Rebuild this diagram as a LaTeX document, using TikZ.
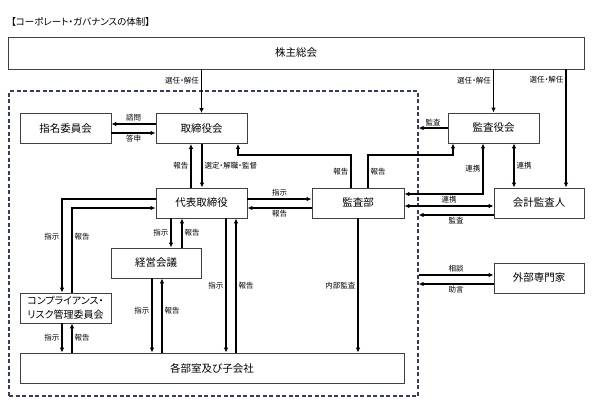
\documentclass[tikz,border=0pt]{standalone}
\usepackage{fontspec}
\setmainfont{Noto Sans CJK JP}[RawFeature=+palt]
\usetikzlibrary{arrows.meta}
\definecolor{frameblue}{RGB}{52,62,92}
\tikzset{
  box/.style={draw=black!75, line width=0.8pt, fill=white, inner sep=0pt,
    minimum height=30pt, font=\fontsize{10.5}{12}\selectfont},
  lbl/.style={font=\fontsize{7.5}{9}\selectfont, inner sep=2pt},
  arr/.style={line width=1.1pt, -{Latex[length=5pt,width=4.5pt]}},
  dbl/.style={line width=1.1pt, {Latex[length=5pt,width=4.5pt]}-{Latex[length=5pt,width=4.5pt]}}
}
\begin{document}
\begin{tikzpicture}[x=1pt, y=-1pt]
    \useasboundingbox (0,0) rectangle (592,408);

    % 見出し
    \node[anchor=west, inner sep=0pt, font=\fontsize{9.5}{11}\selectfont] (title) at (11,22) {【コーポレート・ガバナンスの体制】};

    % 社内の枠
    \node[draw=frameblue, line width=1.2pt, dash pattern=on 4pt off 2.5pt,
          minimum width=409pt, minimum height=305pt, inner sep=0pt] (naibu) at (213.5,243.5) {};

    % 箱
    \node[box, minimum width=576pt, minimum height=32pt] (kabu) at (296,53) {株主総会};
    \node[box, minimum width=91pt] (tori) at (201.5,128.5) {取締役会};
    \node[box, minimum width=91pt] (shimei) at (65.5,128.5) {指名委員会};
    \node[box, minimum width=91pt] (daihyo) at (201.5,203) {代表取締役};
    \node[box, minimum width=90pt] (keiei) at (156,263) {経営会議};
    \node[box, minimum width=91pt, align=center, font=\fontsize{10}{14}\selectfont] (comp) at (65.5,308) {コンプライアンス・\\リスク管理委員会};
    \node[box, minimum width=384pt] (kakubu) at (212,368) {各部室及び子会社};
    \node[box, minimum width=92pt] (kansabu) at (358,203) {監査部};
    \node[box, minimum width=91pt] (kansayaku) at (493.5,128) {監査役会};
    \node[box, minimum width=90pt] (kaikei) at (539,203) {会計監査人};
    \node[box, minimum width=90pt] (gaibu) at (539,278) {外部専門家};

    % 株主総会から
    \draw[arr] (kabu.south -| tori.north) -- node[lbl, left, pos=0.25] {選任・解任} (tori.north);
    \draw[arr] (kabu.south -| kansayaku.north) -- node[lbl, left, pos=0.25] {選任・解任} (kansayaku.north);
    \draw[arr] (kabu.south -| 566,0) -- node[lbl, left, pos=0.09] {選任・解任} (kaikei.north -| 566,0);

    % 取締役会まわり
    \draw[arr] (tori.west |- 0,124) -- node[lbl, above] {諮問} (shimei.east |- 0,124);
    \draw[arr] (shimei.east |- 0,133) -- node[lbl, below] {答申} (tori.west |- 0,133);
    \draw[arr] (daihyo.north -| 191,0) -- node[lbl, left] {報告} (tori.south -| 191,0);
    \draw[arr] (tori.south -| 202,0) -- node[lbl, right] {選定・解職・監督} (daihyo.north -| 202,0);

    % 監査部から
    \draw[arr] (kansabu.north -| 351,0) -- node[lbl, left] {報告} (351,155) -| (tori.south -| 238,0);
    \draw[arr] (kansabu.north -| 368,0) -- node[lbl, right] {報告} (368,155) -| (kansayaku.south -| 453,0);
    \draw[arr] (kansabu.south) -- node[lbl, left] {内部監査} (kakubu.north -| kansabu.south);

    % 監査役会・会計監査人
    \draw[arr] (kansayaku.west) -- node[lbl, above] {監査} (naibu.east |- kansayaku.west);
    \draw[dbl] (kansayaku.south -| 483,0) |- node[lbl, left, pos=0.25] {連携} (kansabu.east |- 0,194);
    \draw[dbl] (kansayaku.south -| 514,0) -- node[lbl, right] {連携} (kaikei.north -| 514,0);
    \draw[dbl] (kansabu.east |- 0,206) -- node[lbl, above] {連携} (kaikei.west |- 0,206);
    \draw[arr] (kaikei.west |- 0,215) -- node[lbl, below] {監査} (naibu.east |- 0,215);

    % 外部専門家
    \draw[arr] (naibu.east |- 0,275) -- node[lbl, above] {相談} (gaibu.west |- 0,275);
    \draw[arr] (gaibu.west |- 0,284) -- node[lbl, below] {助言} (naibu.east |- 0,284);

    % 代表取締役から
    \draw[arr] (daihyo.east |- 0,199) -- node[lbl, above] {指示} (kansabu.west |- 0,199);
    \draw[arr] (kansabu.west |- 0,208) -- node[lbl, below] {報告} (daihyo.east |- 0,208);
    \draw[arr] (daihyo.south -| 171,0) -- node[lbl, left] {指示} (keiei.north -| 171,0);
    \draw[arr] (keiei.north -| 182,0) -- node[lbl, right] {報告} (daihyo.south -| 182,0);
    \draw[arr] (daihyo.south -| 226,0) -- node[lbl, left] {指示} (kakubu.north -| 226,0);
    \draw[arr] (kakubu.north -| 236,0) -- node[lbl, right] {報告} (daihyo.south -| 236,0);
    \draw[arr] (daihyo.west |- 0,199) -| node[lbl, left, pos=0.7] {指示} (comp.north -| 62,0);
    \draw[arr] (comp.north -| 72,0) |- node[lbl, right, pos=0.33] {報告} (daihyo.west |- 0,208);

    % 経営会議・委員会から各部室へ
    \draw[arr] (keiei.south -| 152,0) -- node[lbl, left, pos=0.43] {指示} (kakubu.north -| 152,0);
    \draw[arr] (kakubu.north -| 162,0) -- node[lbl, right, pos=0.57] {報告} (keiei.south -| 162,0);
    \draw[arr] (comp.south -| 62,0) -- node[lbl, left] {指示} (kakubu.north -| 62,0);
    \draw[arr] (kakubu.north -| 72,0) -- node[lbl, right] {報告} (comp.south -| 72,0);

\end{tikzpicture}
\end{document}
